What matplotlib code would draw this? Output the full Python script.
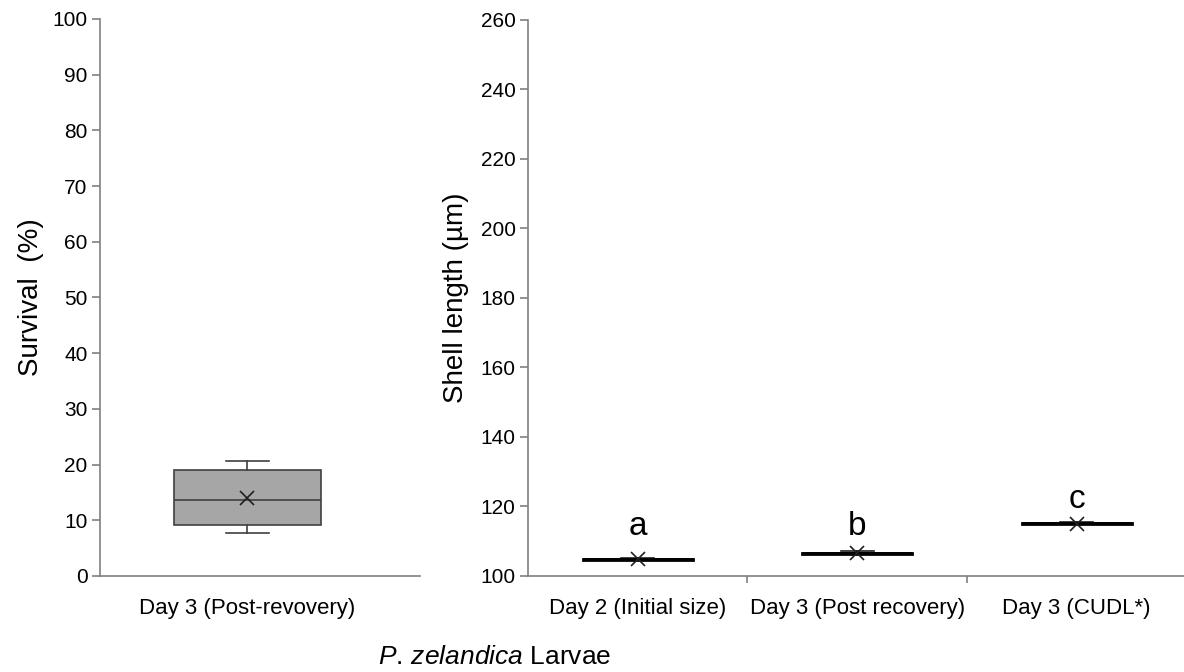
import matplotlib.pyplot as plt

plt.rcParams['font.family'] = ['Liberation Sans', 'DejaVu Sans']
plt.rcParams['mathtext.fontset'] = 'custom'
plt.rcParams['mathtext.rm'] = 'Liberation Sans'
plt.rcParams['mathtext.it'] = 'Liberation Sans:italic'

# survival box (left panel)
surv_label = ['Day 3 (Post-revovery)']
surv_whislo = [7.7]
surv_q1 = [9.2]
surv_med = [13.7]
surv_q3 = [19.0]
surv_whishi = [20.6]
surv_mean = [14.0]

# shell length boxes (right panel)
shell_labels = ['Day 2 (Initial size)', 'Day 3 (Post recovery)', 'Day 3 (CUDL*)']
shell_whislo = [104.5, 106.1, 114.6]
shell_q1 = [104.7, 106.3, 114.9]
shell_med = [104.8, 106.5, 115.1]
shell_q3 = [104.9, 106.6, 115.3]
shell_whishi = [105.2, 107.3, 115.6]
shell_mean = [104.9, 106.5, 115.0]
letters = ['a', 'b', 'c']
letter_y = [111.8, 111.8, 119.6]

spine_col = '#808080'

fig = plt.figure(figsize=(11.84, 6.72), dpi=100)
ax1 = fig.add_axes([0.0845, 0.1429, 0.2703, 0.8289])
ax2 = fig.add_axes([0.446, 0.1429, 0.556, 0.8274])

def make_stats(lo, q1, med, q3, hi, mean):
    return [dict(whislo=a, q1=b, med=c, q3=d, whishi=e, mean=f, fliers=[])
            for a, b, c, d, e, f in zip(lo, q1, med, q3, hi, mean)]

stats1 = make_stats(surv_whislo, surv_q1, surv_med, surv_q3, surv_whishi, surv_mean)
ax1.bxp(stats1, positions=[0], widths=0.46, patch_artist=True, showmeans=True,
        boxprops=dict(facecolor='#a6a6a6', edgecolor='#404040', linewidth=1.2),
        medianprops=dict(color='#404040', linewidth=1.2),
        whiskerprops=dict(color='#404040', linewidth=1.2),
        capprops=dict(color='#404040', linewidth=1.2),
        capwidths=0.135,
        meanprops=dict(marker='x', markeredgecolor='#202020', markersize=10, markeredgewidth=1.2))
ax1.set_xlim(-0.46, 0.54)
ax1.set_ylim(0, 100)
ax1.set_yticks(range(0, 101, 10))
ax1.set_xticks([0])
ax1.set_xticklabels(surv_label)
ax1.set_ylabel('Survival  (%)', fontsize=20, labelpad=6)

stats2 = make_stats(shell_whislo, shell_q1, shell_med, shell_q3, shell_whishi, shell_mean)
pos = [0, 1, 2]
ax2.bxp(stats2, positions=pos, widths=0.5, patch_artist=True, showmeans=True,
        boxprops=dict(facecolor='#a6a6a6', edgecolor='#000000', linewidth=2),
        medianprops=dict(color='#000000', linewidth=2),
        whiskerprops=dict(color='#000000', linewidth=1.2),
        capprops=dict(color='#202020', linewidth=1.2),
        capwidths=0.15,
        meanprops=dict(marker='x', markeredgecolor='#202020', markersize=10, markeredgewidth=1.2))
for p, t, y in zip(pos, letters, letter_y):
    ax2.text(p, y, t, ha='center', va='baseline', fontsize=24)
ax2.set_xlim(-0.5, 2.5)
ax2.set_ylim(100, 260)
ax2.set_yticks(range(100, 261, 20))
ax2.set_xticks(pos)
ax2.set_xticklabels(shell_labels)
ax2.set_xticks([0.5, 1.5], minor=True)
ax2.set_ylabel('Shell length (µm)', fontsize=20, labelpad=8)

for ax in (ax1, ax2):
    for s in ('top', 'right'):
        ax.spines[s].set_visible(False)
    for s in ('left', 'bottom'):
        ax.spines[s].set_color(spine_col)
        ax.spines[s].set_linewidth(1.2)
    ax.tick_params(axis='y', labelsize=15, color=spine_col, length=6, width=1.2, pad=3)
    ax.tick_params(axis='x', which='major', labelsize=16, length=0, pad=16)
ax2.tick_params(axis='x', which='minor', color=spine_col, length=5, width=1.2)

# figure caption under both panels
fig.text(0.418, 1 - 657 / 672, r'$\mathit{P.}\,\mathit{zelandica}$ Larvae', fontsize=19,
         ha='center', va='center')
fig.savefig('out.png', dpi=100)
